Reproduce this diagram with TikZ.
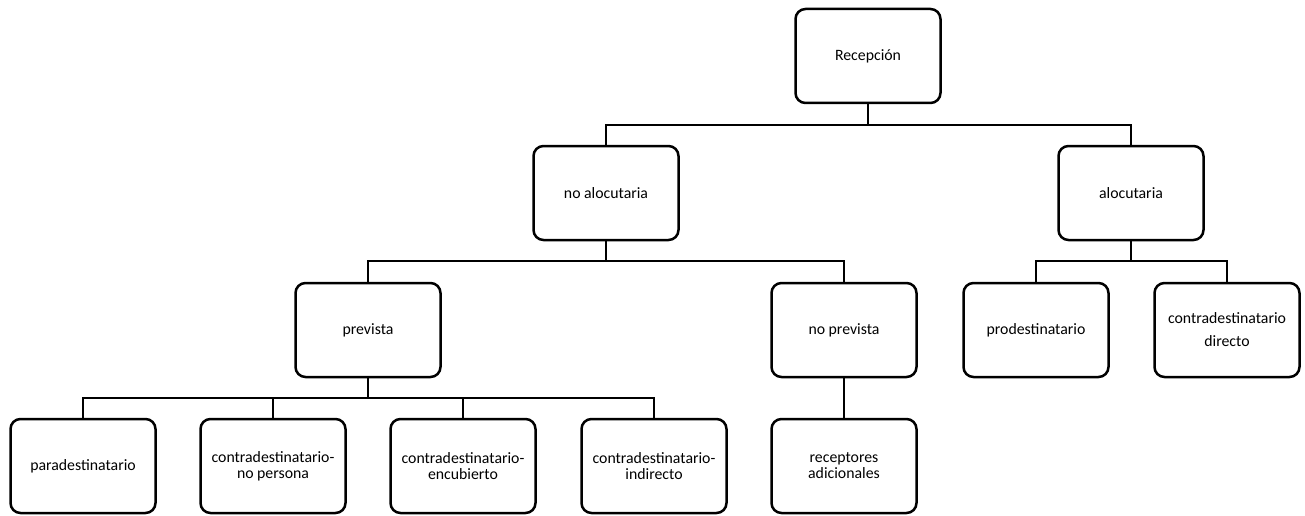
\documentclass[tikz,border=0pt]{standalone}
\usepackage{fontspec}
\setmainfont{Carlito}
\begin{document}
\begin{tikzpicture}[x=1pt,y=-1pt,
  box/.style={draw, line width=2.5pt, rounded corners=10pt,
    minimum width=145pt, minimum height=94pt, inner sep=2pt, align=center,
    font=\fontsize{15.8}{16}\selectfont},
  link/.style={line width=2.5pt}]
\useasboundingbox (0,0) rectangle (1305,516);

% level 0
\node[box] (rec) at (868,56) {Recepción};
% level 1
\node[box] (noaloc) at (606,193) {no alocutaria};
\node[box] (aloc) at (1131,193) {alocutaria};
% level 2
\node[box] (prev) at (368,330) {prevista};
\node[box] (noprev) at (844,330) {no prevista};
\node[box] (prodest) at (1036,330) {prodestinatario};
\node[box] (directo) at (1227,330) {contradestinatario\\[7pt]directo};
% level 3
\node[box] (para) at (83,466) {paradestinatario};
\node[box] (nopers) at (273,466) {contradestinatario-\\no persona};
\node[box] (encub) at (463,466) {contradestinatario-\\encubierto};
\node[box] (indir) at (654,466) {contradestinatario-\\indirecto};
\node[box] (recep) at (844,466) {receptores\\adicionales};

% connectors
\coordinate (b0) at (0,125);
\coordinate (b1) at (0,261);
\coordinate (b2) at (0,398);
\draw[link] (rec.south) -- (rec.south |- b0) -| (noaloc.north);
\draw[link] (rec.south) -- (rec.south |- b0) -| (aloc.north);
\draw[link] (noaloc.south) -- (noaloc.south |- b1) -| (prev.north);
\draw[link] (noaloc.south) -- (noaloc.south |- b1) -| (noprev.north);
\draw[link] (aloc.south) -- (aloc.south |- b1) -| (prodest.north);
\draw[link] (aloc.south) -- (aloc.south |- b1) -| (directo.north);
\draw[link] (prev.south) -- (prev.south |- b2) -| (para.north);
\draw[link] (prev.south) -- (prev.south |- b2) -| (nopers.north);
\draw[link] (prev.south) -- (prev.south |- b2) -| (encub.north);
\draw[link] (prev.south) -- (prev.south |- b2) -| (indir.north);
\draw[link] (noprev.south) -- (recep.north);
\end{tikzpicture}
\end{document}
